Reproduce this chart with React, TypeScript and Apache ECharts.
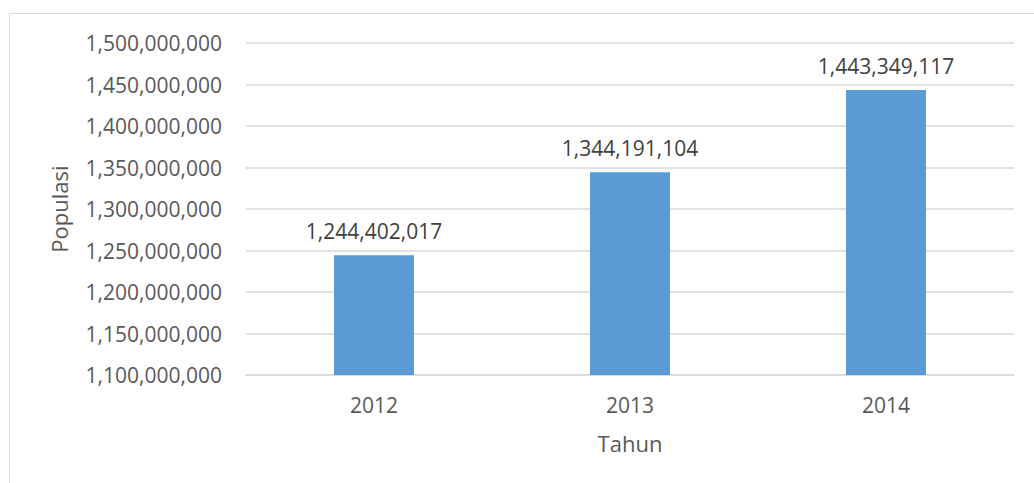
import React, { useEffect, useRef } from "react";
import * as echarts from "echarts";

const categories = ["2012", "2013", "2014"];
const populasi = [1244402017, 1344191104, 1443349117];
const yMin = 1100000000;
const yMax = 1500000000;
const yInterval = 50000000;

const fmt = (v: number) => v.toLocaleString("en-US");

export default function App() {
  const ref = useRef<HTMLDivElement>(null);
  useEffect(() => {
    if (!ref.current) return;
    const chart = echarts.init(ref.current, undefined, { renderer: "svg" });
    const font = "'Open Sans', sans-serif";
    chart.setOption({
      animation: false,
      backgroundColor: "#ffffff",
      textStyle: { fontFamily: font },
      graphic: [
        {
          type: "rect",
          shape: { x: 9.5, y: 13.5, width: 1100, height: 600 },
          style: { fill: "none", stroke: "#d9d9d9", lineWidth: 1 },
          silent: true,
        },
      ],
      grid: { left: 246, right: 20, top: 43, bottom: 108, containLabel: false },
      xAxis: {
        type: "category",
        data: categories,
        name: "Tahun",
        nameLocation: "middle",
        nameGap: 57,
        nameTextStyle: { color: "#595959", fontSize: 22, fontFamily: font },
        axisLine: { lineStyle: { color: "#d9d9d9", width: 1.5 } },
        axisTick: { show: false },
        axisLabel: { color: "#595959", fontSize: 21, margin: 19, fontFamily: font },
      },
      yAxis: {
        type: "value",
        min: yMin,
        max: yMax,
        interval: yInterval,
        name: "Populasi",
        nameLocation: "middle",
        nameGap: 176,
        nameTextStyle: { color: "#595959", fontSize: 22, fontFamily: font },
        axisLine: { show: false },
        axisTick: { show: false },
        axisLabel: {
          color: "#595959",
          fontSize: 21,
          margin: 24,
          fontFamily: font,
          formatter: (v: number) => fmt(v),
        },
        splitLine: { lineStyle: { color: "#d9d9d9", width: 1.5 } },
      },
      series: [
        {
          type: "bar",
          data: populasi,
          barWidth: 80,
          itemStyle: { color: "#5b9bd5" },
          label: {
            show: true,
            position: "top",
            distance: 14,
            color: "#404040",
            fontSize: 21,
            fontFamily: font,
            formatter: (p: any) => fmt(p.value),
          },
        },
      ],
    });
    return () => chart.dispose();
  }, []);
  return (
    <div
      ref={ref}
      style={{ position: "fixed", left: 0, top: 0, width: 1034, height: 483 }}
    />
  );
}
